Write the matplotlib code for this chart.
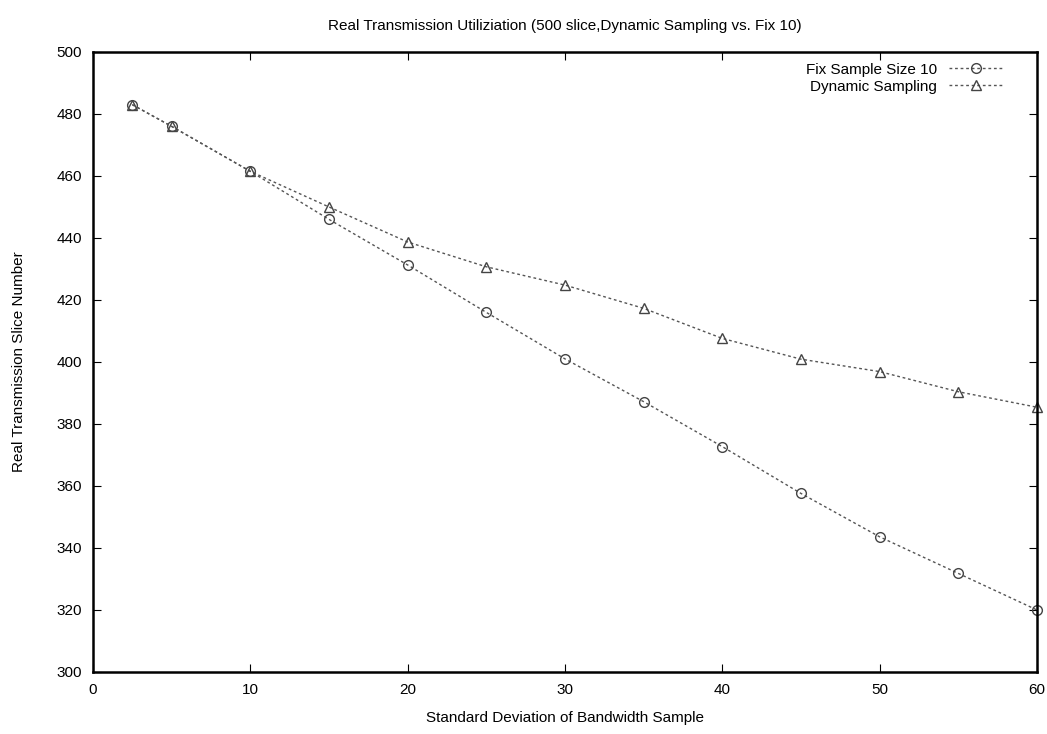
import matplotlib
matplotlib.use("Agg")
import matplotlib.pyplot as plt

# values
std_dev = [2.5, 5, 10, 15, 20, 25, 30, 35, 40, 45, 50, 55, 60]
fix_10 = [483, 476, 461.5, 446, 431.3, 416, 401, 387.2, 372.7, 357.6, 343.6, 331.8, 320]
dynamic = [483, 476, 461.5, 450, 438.7, 430.7, 424.8, 417.3, 407.6, 400.9, 396.9, 390.4, 385.4]

plt.rcParams['font.family'] = ['Liberation Sans', 'DejaVu Sans']

fig = plt.figure(figsize=(10.47, 7.34), dpi=100)
ax = fig.add_axes([0.0888, 0.0845, 0.9016, 0.8447])

ax.plot(std_dev, fix_10, color='#555555', linestyle=(0, (2, 2)), linewidth=1,
        marker='o', markersize=7, markerfacecolor='none', markeredgecolor='#444444',
        label='Fix Sample Size 10', clip_on=False)
ax.plot(std_dev, dynamic, color='#555555', linestyle=(0, (2, 2)), linewidth=1,
        marker='^', markersize=7, markerfacecolor='none', markeredgecolor='#444444',
        label='Dynamic Sampling', clip_on=False)

ax.set_xlim(0, 60)
ax.set_ylim(300, 500)
ax.set_xticks(range(0, 61, 10))
ax.set_yticks(range(300, 501, 20))
ax.tick_params(direction='in', top=True, right=True, length=6, labelsize=11, pad=8)
for s in ax.spines.values():
    s.set_linewidth(1.8)

ax.set_title('Real Transmission Utiliziation (500 slice,Dynamic Sampling vs. Fix 10)',
             fontsize=11, pad=16)
ax.set_xlabel('Standard Deviation of Bandwidth Sample', fontsize=11, labelpad=10)
ax.set_ylabel('Real Transmission Slice Number', fontsize=11, labelpad=22)

ax.legend(loc='upper right', bbox_to_anchor=(0.975, 1.0), frameon=False,
          markerfirst=False, fontsize=11, handlelength=3.5, borderaxespad=0.3,
          labelspacing=0.2)

fig.savefig('out.png', dpi=100)
